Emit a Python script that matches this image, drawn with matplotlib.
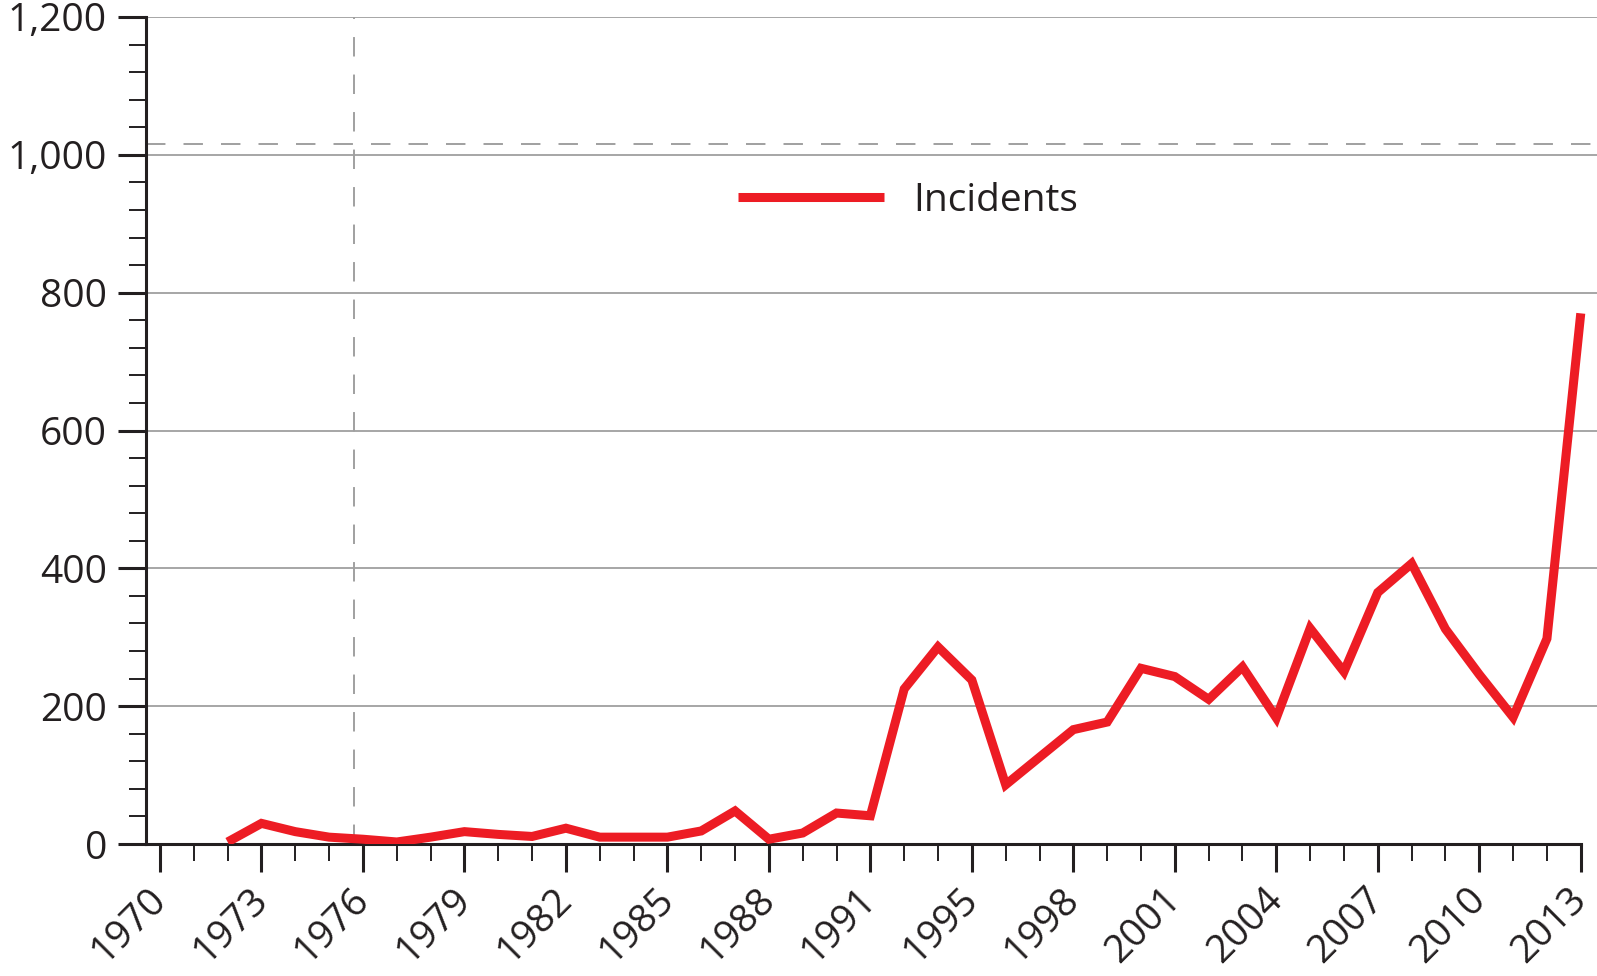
import matplotlib
matplotlib.use("Agg")
import matplotlib.pyplot as plt
from matplotlib.ticker import MultipleLocator, FixedLocator
from matplotlib.transforms import ScaledTranslation

plt.rcParams['font.family'] = ['Open Sans', 'DejaVu Sans']
plt.rcParams['lines.scale_dashes'] = False

# years on the axis (1993 has no slot)
axis_years = [1970, 1971, 1972, 1973, 1974, 1975, 1976, 1977, 1978, 1979,
              1980, 1981, 1982, 1983, 1984, 1985, 1986, 1987, 1988, 1989,
              1990, 1991, 1992, 1994, 1995, 1996, 1997, 1998, 1999, 2000,
              2001, 2002, 2003, 2004, 2005, 2006, 2007, 2008, 2009, 2010,
              2011, 2012, 2013]
label_years = [1970, 1973, 1976, 1979, 1982, 1985, 1988, 1991, 1995, 1998,
               2001, 2004, 2007, 2010, 2013]

# incidents per year
years = [1972, 1973, 1974, 1975, 1976, 1977, 1978, 1979, 1980, 1981,
         1982, 1983, 1984, 1985, 1986, 1987, 1988, 1989, 1990, 1991,
         1992, 1994, 1995, 1996, 1997, 1998, 1999, 2000, 2001, 2002,
         2003, 2004, 2005, 2006, 2007, 2008, 2009, 2010, 2011, 2012, 2013]
incidents = [3, 30, 18, 10, 7, 3, 10, 18, 14, 11,
             23, 10, 10, 10, 19, 48, 7, 16, 45, 41,
             225, 286, 238, 86, 126, 166, 177, 255, 243, 210,
             257, 183, 313, 250, 365, 407, 312, 246, 184, 298, 770]

# dashed reference lines
ref_slot = 5.73
ref_value = 1015

slot = {y: i for i, y in enumerate(axis_years)}
xs = [slot[y] for y in years]

red = '#ED1C24'
ink = '#231F20'

fig = plt.figure(figsize=(15.97, 9.76), dpi=100)
ax = fig.add_axes([0.0914, 0.1352, 0.9086, 0.8474])

x_left = -0.414
x_right = 42.48
ax.set_xlim(x_left, x_right)
ax.set_ylim(0, 1200)

for v in range(200, 1201, 200):
    ax.axhline(v, color='#979797', lw=1.2, zorder=1)

ax.axvline(ref_slot, color='#a0a0a0', lw=1.4, ls=(0, (14, 13)), zorder=1)
ax.axhline(ref_value, color='#a0a0a0', lw=1.4, ls=(0, (14, 13)), zorder=1)

ax.plot(xs, incidents, color=red, lw=6.5, solid_joinstyle='miter',
        solid_capstyle='butt', label='Incidents', zorder=3)

for s in ['top', 'right']:
    ax.spines[s].set_visible(False)
for s in ['left', 'bottom']:
    ax.spines[s].set_color(ink)
    ax.spines[s].set_linewidth(2.2)
ax.spines['bottom'].set_bounds(x_left, slot[2013])

ax.yaxis.set_major_locator(MultipleLocator(200))
ax.yaxis.set_minor_locator(MultipleLocator(40))
ax.set_yticklabels([f'{int(v):,}' for v in ax.get_yticks()])
ax.xaxis.set_major_locator(FixedLocator([slot[y] for y in label_years]))
ax.xaxis.set_minor_locator(FixedLocator(list(range(len(axis_years)))))
ax.set_xticklabels([str(y) for y in label_years], rotation=45, ha='right',
                   va='top', rotation_mode='anchor')

ax.tick_params(which='major', length=20, width=2.2, color=ink,
               labelsize=28, labelcolor=ink)
ax.tick_params(which='minor', length=12.5, width=1.4, color=ink)
ax.tick_params(axis='y', which='major', pad=8)
ax.tick_params(axis='x', which='major', pad=6)

# nudge the slanted year labels to the left so the last one fits
shift = ScaledTranslation(-13 / 100, 0, fig.dpi_scale_trans)
for lab in ax.get_xticklabels():
    lab.set_transform(lab.get_transform() + shift)

ax.legend(loc='center left', bbox_to_anchor=(0.408, 0.778), frameon=False,
          fontsize=28, handlelength=3.75, handletextpad=0.75, borderpad=0,
          borderaxespad=0, labelcolor=ink)

fig.savefig('out.png', dpi=100)
